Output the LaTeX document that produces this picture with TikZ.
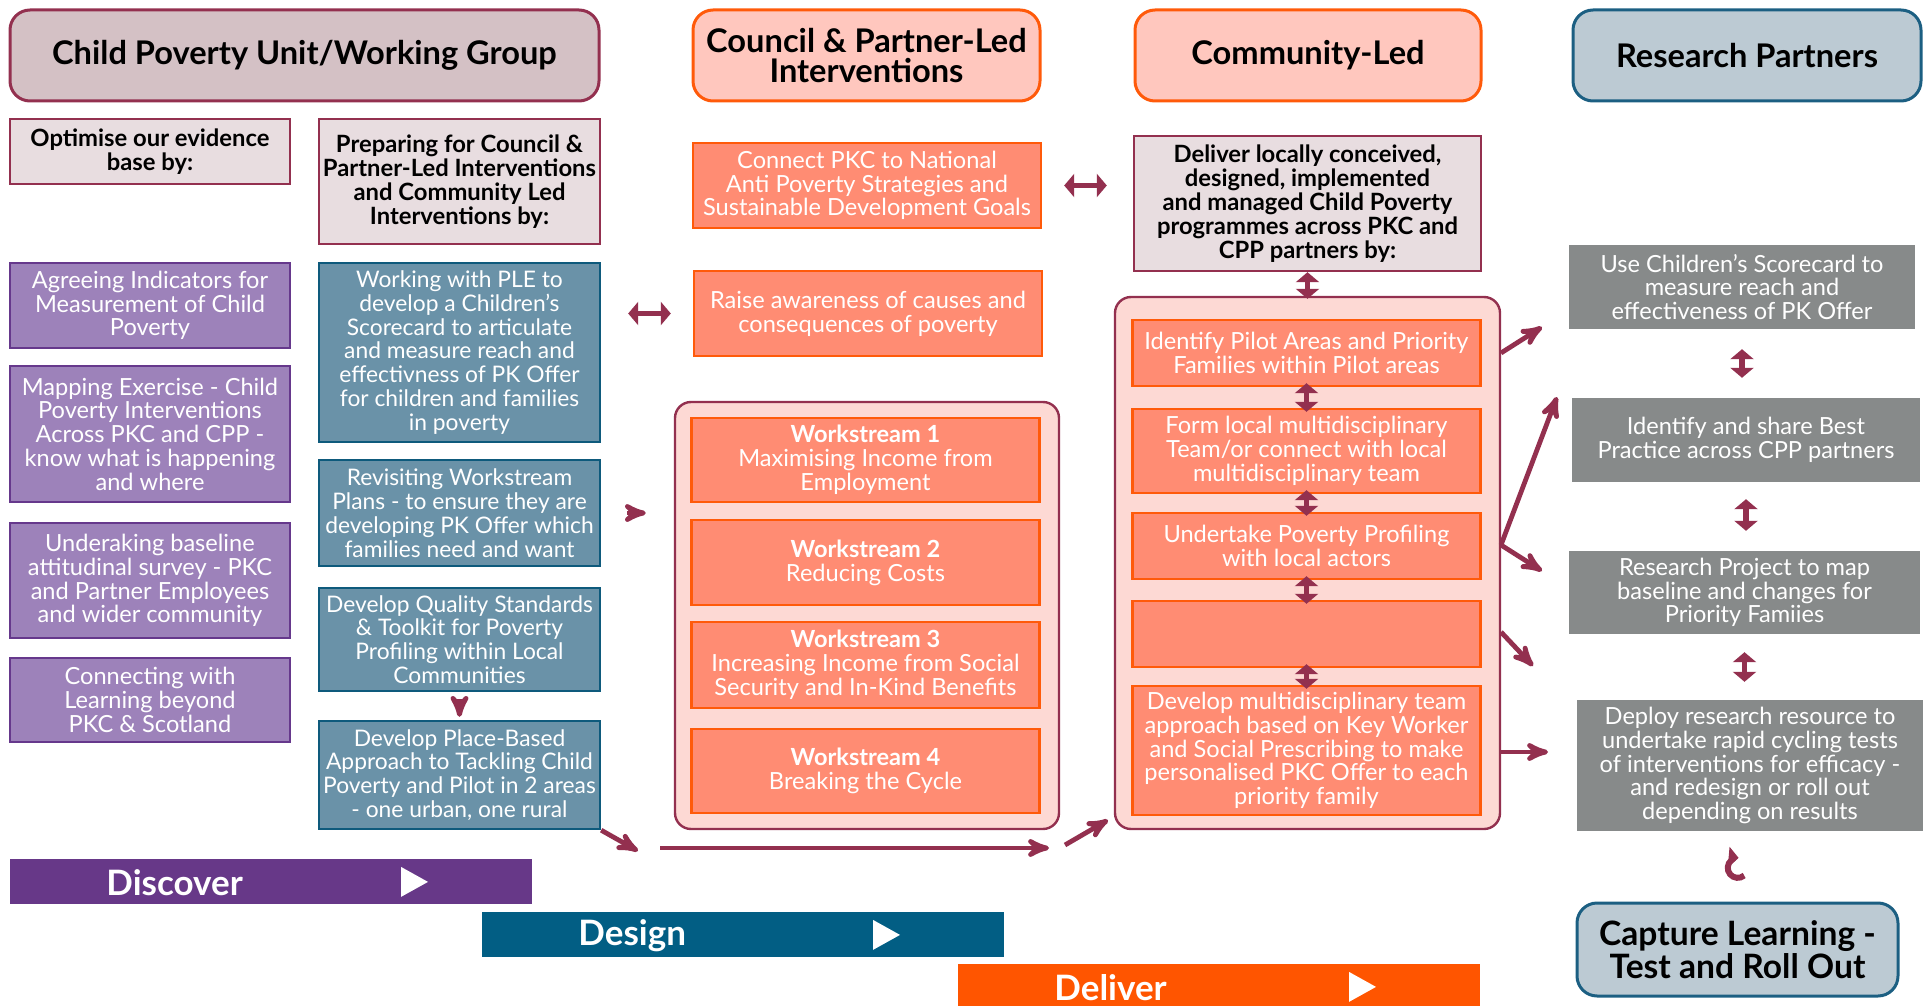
\documentclass[tikz,border=0pt]{standalone}
\usepackage{fontspec}
\setmainfont{Lato}
\usetikzlibrary{arrows,arrows.meta,calc}

\definecolor{maroon}{HTML}{93304F}
\definecolor{hdrgrey}{HTML}{D4C1C5}
\definecolor{palegrey}{HTML}{E8DDE0}
\definecolor{hdrpink}{HTML}{FFC7BE}
\definecolor{orangeline}{HTML}{FF5A0A}
\definecolor{orangefill}{HTML}{FF8C73}
\definecolor{palepink}{HTML}{FDD9D4}
\definecolor{purplefill}{HTML}{9D82BA}
\definecolor{purpleline}{HTML}{66388C}
\definecolor{bluefill}{HTML}{6A92A8}
\definecolor{blueline}{HTML}{0E5A7C}
\definecolor{greyfill}{HTML}{878A8A}
\definecolor{hdrblue}{HTML}{BCCAD3}
\definecolor{hdrblueline}{HTML}{1C5F82}
\definecolor{discov}{HTML}{673888}
\definecolor{desgn}{HTML}{025E84}
\definecolor{delivr}{HTML}{FF5500}

\begin{document}
\begin{tikzpicture}[x=0.5pt,y=-0.5pt,>=stealth',
        every node/.style={align=center,inner sep=0pt},
        colhead/.style={rounded corners=10pt,line width=1.5pt,minimum height=45.5pt,
            font=\bfseries\fontsize{16.3}{15}\selectfont},
        intro/.style={draw=maroon,fill=palegrey,line width=1.2pt,
            font=\bfseries\fontsize{11.9}{12}\selectfont},
        boxtext/.style={text=white,line width=1.2pt,font=\fontsize{11.8}{11.9}\selectfont},
        purplebox/.style={boxtext,draw=purpleline,fill=purplefill,minimum width=140pt},
        bluebox/.style={boxtext,draw=blueline,fill=bluefill,minimum width=140.5pt,
            font=\fontsize{11.4}{11.9}\selectfont},
        orangebox/.style={boxtext,draw=orangeline,fill=orangefill,minimum width=174pt},
        greybox/.style={boxtext,fill=greyfill},
        holder/.style={draw=maroon,fill=palepink,line width=1.2pt,rounded corners=8pt},
        link/.style={->,draw=maroon,line width=2.4pt},
        twoway/.style={draw=maroon,line width=2.6pt,
            {Triangle[length=5pt,width=11.5pt]}-{Triangle[length=5pt,width=11.5pt]}},
        phase/.style={minimum width=261pt,minimum height=22.5pt},
        phaselabel/.style={text=white,anchor=west,font=\bfseries\fontsize{17.5}{17.5}\selectfont}]

    \useasboundingbox (0,0) rectangle (1924,1006);

    % column headings
    \node[colhead,draw=maroon,fill=hdrgrey,minimum width=294.5pt] (unit) at (304.5,55.5) {Child Poverty Unit/Working Group};
    \node[colhead,draw=orangeline,fill=hdrpink,minimum width=173.5pt] (council) at (866.5,55.5) {Council \& Partner-Led\\Interventions};
    \node[colhead,draw=orangeline,fill=hdrpink,minimum width=173pt] (community) at (1308,55.5) {Community-Led};
    \node[colhead,draw=hdrblueline,fill=hdrblue,minimum width=174pt] (partners) at (1747,55.5) {Research Partners};

    % discover column
    \node[intro,minimum width=140pt,minimum height=32.5pt] (optimise) at (150,151.5) {Optimise our evidence\\base by:};
    \node[purplebox,minimum height=42.5pt] (agree) at (150,305.5) {Agreeing Indicators for\\Measurement of Child\\Poverty};
    \node[purplebox,minimum height=68pt] (mapping) at (150,434) {Mapping Exercise - Child\\Poverty Interventions\\Across PKC and CPP -\\know what is happening\\and where};
    \node[purplebox,minimum height=57.5pt] (survey) at (150,580.5) {Underaking baseline\\attitudinal survey - PKC\\and Partner Employees\\and wider community};
    \node[purplebox,minimum height=42pt] (learning) at (150,700) {Connecting with\\Learning beyond\\PKC \& Scotland};

    % design column
    \node[intro,minimum width=140.5pt,minimum height=62.5pt] (preparing) at (459.5,181.5) {Preparing for Council \&\\Partner-Led Interventions\\and Community Led\\Interventions by:};
    \node[bluebox,minimum height=89.5pt] (ple) at (459.5,352.5) {Working with PLE to\\develop a Children's\\Scorecard to articulate\\and measure reach and\\effectivness of PK Offer\\for children and families\\in poverty};
    \node[bluebox,minimum height=53pt] (revisit) at (459.5,513) {Revisiting Workstream\\Plans - to ensure they are\\developing PK Offer which\\families need and want};
    \node[bluebox,minimum height=51.5pt] (quality) at (459.5,639.5) {Develop Quality Standards\\\& Toolkit for Poverty\\Profiling within Local\\Communities};
    \node[bluebox,minimum height=54pt] (place) at (459.5,775) {Develop Place-Based\\Approach to Tackling Child\\Poverty and Pilot in 2 areas\\- one urban, one rural};

    % council & partner-led column
    \node[orangebox,minimum height=42.5pt] (connect) at (867,185.5) {Connect PKC to National\\Anti Poverty Strategies and\\Sustainable Development Goals};
    \node[orangebox,minimum height=42.5pt] (raise) at (868,313.5) {Raise awareness of causes and\\consequences of poverty};
    \node[holder,minimum width=192pt,minimum height=213.5pt] (streams) at (867,615.5) {};
    \node[orangebox,minimum height=42pt] (ws1) at (865.5,460) {\textbf{Workstream 1}\\Maximising Income from\\Employment};
    \node[orangebox,minimum height=42.5pt] (ws2) at (865.5,562.5) {\textbf{Workstream 2}\\Reducing Costs};
    \node[orangebox,minimum height=43pt] (ws3) at (865.5,665) {\textbf{Workstream 3}\\Increasing Income from Social\\Security and In-Kind Benefits};
    \node[orangebox,minimum height=42pt] (ws4) at (865.5,771) {\textbf{Workstream 4}\\Breaking the Cycle};

    % community-led column
    \node[intro,minimum width=173.5pt,minimum height=67.5pt] (deliverby) at (1307.5,203.5) {Deliver locally conceived,\\designed, implemented\\and managed Child Poverty\\programmes across PKC and\\CPP partners by:};
    \node[holder,minimum width=192.5pt,minimum height=266pt] (pilot) at (1307.5,563) {};
    \node[orangebox,minimum height=33pt] (areas) at (1306.5,353) {Identify Pilot Areas and Priority\\Families within Pilot areas};
    \node[orangebox,minimum height=42pt] (team) at (1306.5,451) {Form local multidisciplinary\\Team/or connect with local\\multidisciplinary team};
    \node[orangebox,minimum height=33pt] (profiling) at (1306.5,546) {Undertake Poverty Profiling\\with local actors};
    \node[orangebox,minimum height=33pt] (blank) at (1306.5,634) {};
    \node[orangebox,minimum height=64.5pt] (keyworker) at (1306.5,750.5) {Develop multidisciplinary team\\approach based on Key Worker\\and Social Prescribing to make\\personalised PKC Offer to each\\priority family};

    % research partners column
    \node[greybox,minimum width=173pt,minimum height=42pt] (scorecard) at (1742,287) {Use Children's Scorecard to\\measure reach and\\effectiveness of PK Offer};
    \node[greybox,minimum width=174pt,minimum height=42pt] (practice) at (1746,440) {Identify and share Best\\Practice across CPP partners};
    \node[greybox,minimum width=175.5pt,minimum height=41.5pt] (project) at (1744.5,592.5) {Research Project to map\\baseline and changes for\\Priority Famiies};
    \node[greybox,minimum width=173pt,minimum height=65.5pt] (deploy) at (1750,765.5) {Deploy research resource to\\undertake rapid cycling tests\\of interventions for efficacy -\\and redesign or roll out\\depending on results};
    \node[colhead,draw=hdrblueline,fill=hdrblue,minimum width=160.5pt,minimum height=46.5pt,
        font=\bfseries\fontsize{16.8}{14.5}\selectfont] (capture) at (1737.5,949.5) {Capture Learning -\\Test and Roll Out};

    % phase bars
    \foreach \name/\col/\x/\y/\lbl in {discover/discov/10/859/Discover,
            design/desgn/482/912/Design, deliver/delivr/958/964/Deliver} {
        \node[phase,fill=\col,anchor=north west] (\name) at (\x,\y) {};
        \node[phaselabel] (\name-label) at ($(\name.west)+(96,1)$) {\lbl};
        \fill[white] ($(\name.west)+(391,-15)$) -- ++(27,15) -- ++(-27,15) -- cycle;
    }

    % free ends of connectors
    \coordinate (placeout) at (638,851);
    \coordinate (runstart) at (660,848);
    \coordinate (runend) at (1049,848);
    \coordinate (upstart) at (1065,845);
    \coordinate (upend) at (1108,820);
    \coordinate (out1) at (1501,353);
    \coordinate (in1) at (1542,327);
    \coordinate (out2) at (1501,545);
    \coordinate (in2) at (1557,397);
    \coordinate (in3) at (1542,571);
    \coordinate (out3) at (1501,632);
    \coordinate (in4) at (1533,666);
    \coordinate (out4) at (1501,752);
    \coordinate (in5) at (1548,752);
    \coordinate (cycle) at ($(deploy.south)!0.5!(capture.north)+(-6,1)$);

    % connectors
    \draw[twoway,shorten <=11pt,shorten >=13pt] (connect.east) -- (connect.east -| deliverby.west);
    \draw[twoway,shorten <=11pt,shorten >=13.5pt] (raise.west) -- (raise.west -| ple.east);
    \draw[link,shorten <=13pt,shorten >=14pt] (revisit.east) -- (revisit.east -| streams.west);
    \draw[link,shorten <=3.5pt,shorten >=1.5pt] (quality) -- (place);
    \draw[link] (place.south east) -- (placeout);
    \draw[link] (runstart) -- (runend);
    \draw[link] (upstart) -- (upend);

    \draw[twoway,shorten >=-1.5pt] (deliverby.south) -- (pilot.north);
    \draw[twoway,shorten <=-2pt,shorten >=-2pt] (areas) -- (team);
    \draw[twoway,shorten <=-2pt,shorten >=-2pt] (team) -- (profiling);
    \draw[twoway,shorten <=-2pt,shorten >=-2pt] (profiling) -- (blank);
    \draw[twoway,shorten <=-2pt,shorten >=-2pt] (blank) -- (keyworker);

    \draw[link] (out1) -- (in1);
    \draw[link] (out2) -- (in2);
    \draw[link] (out2) -- (in3);
    \draw[link] (out3) -- (in4);
    \draw[link] (out4) -- (in5);

    \draw[twoway,shorten <=9.5pt,shorten >=9.5pt] (scorecard.south) -- (scorecard.south |- practice.north);
    \draw[twoway,shorten <=8pt,shorten >=9.5pt] (practice.south) -- (practice.south |- project.north);
    \draw[twoway,shorten <=8.5pt,shorten >=8.5pt] (project.south) -- (project.south |- deploy.north);
    \draw[maroon,line width=3pt,-{Triangle[length=5pt,width=10pt]}]
        ([shift={(-50:5pt)}]cycle) arc[start angle=-50,end angle=-275,radius=5pt];

\end{tikzpicture}
\end{document}
